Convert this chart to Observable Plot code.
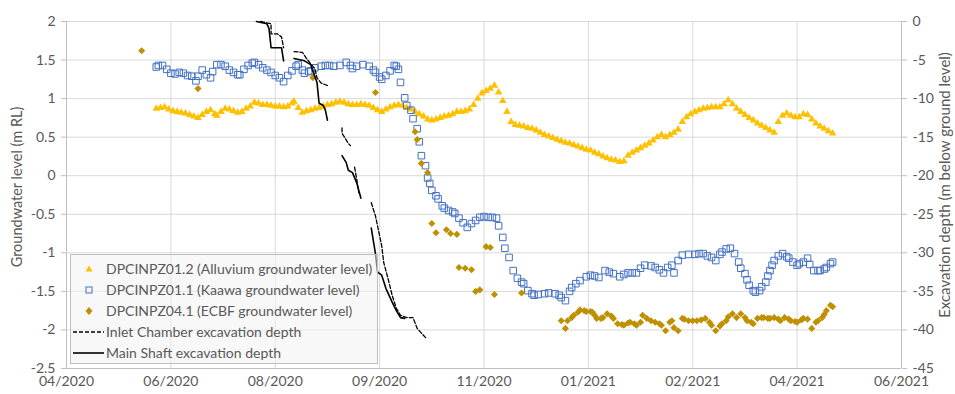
<!DOCTYPE html>
<html><head><meta charset="utf-8">
<script src="https://cdn.jsdelivr.net/npm/d3@7"></script>
<script src="https://cdn.jsdelivr.net/npm/@observablehq/plot@0.6"></script>
<style>
body{margin:0;background:#fff;}
#wrap{position:relative;width:955px;height:394px;font-family:Lato,"Open Sans",sans-serif;}
#legend{position:absolute;left:70px;top:254px;width:308px;height:110px;border:1px solid #bfbfbf;background:rgba(242,242,242,0.55);box-sizing:border-box;}
.row{position:absolute;left:0;height:20px;width:300px;}
.row svg{position:absolute;left:0;top:0;}
.row span{position:absolute;left:35px;top:0;line-height:20px;font-size:14px;color:#595959;white-space:nowrap;}
</style></head>
<body><div id="wrap"><div id="legend"></div></div>
<script>
// ---- axis ticks ----
const xTickDates = ["2020-04-29","2020-06-18","2020-08-07","2020-09-26","2020-11-15","2021-01-04","2021-02-23","2021-04-14","2021-06-03"];
const xTickLabels = ["04/2020","06/2020","08/2020","09/2020","11/2020","01/2021","02/2021","04/2021","06/2021"];
const yTicks = [2,1.5,1,0.5,0,-0.5,-1,-1.5,-2,-2.5];
const yTickLabels = ["2","1.5","1","0.5","0","-0.5","-1","-1.5","-2","-2.5"];
const depthTickLabels = ["0","-5","-10","-15","-20","-25","-30","-35","-40","-45"];

// ---- series (date, groundwater level m RL) ----
const alluvium = [
["2020-06-11",0.87],["2020-06-13",0.88],["2020-06-15",0.89],["2020-06-17",0.86],["2020-06-19",0.84],["2020-06-21",0.83],["2020-06-23",0.82],["2020-06-25",0.81],["2020-06-27",0.79],["2020-06-29",0.77],
["2020-07-01",0.75],["2020-07-03",0.79],["2020-07-05",0.83],["2020-07-07",0.85],["2020-07-09",0.80],["2020-07-10",0.78],["2020-07-12",0.83],["2020-07-14",0.87],["2020-07-16",0.86],["2020-07-18",0.84],
["2020-07-20",0.82],["2020-07-22",0.83],["2020-07-24",0.87],["2020-07-26",0.90],["2020-07-28",0.95],["2020-07-30",0.94],["2020-08-01",0.92],["2020-08-03",0.92],["2020-08-05",0.91],["2020-08-07",0.90],
["2020-08-09",0.90],["2020-08-11",0.89],["2020-08-13",0.90],["2020-08-15",0.94],["2020-08-16",0.96],["2020-08-18",0.88],["2020-08-20",0.82],["2020-08-22",0.84],["2020-08-24",0.85],["2020-08-26",0.87],
["2020-08-28",0.88],["2020-08-30",0.90],["2020-09-01",0.92],["2020-09-03",0.93],["2020-09-05",0.95],["2020-09-07",0.96],["2020-09-09",0.95],["2020-09-11",0.93],["2020-09-13",0.92],["2020-09-15",0.92],
["2020-09-17",0.93],["2020-09-19",0.92],["2020-09-21",0.91],["2020-09-23",0.88],["2020-09-25",0.85],["2020-09-27",0.83],["2020-09-29",0.86],["2020-10-01",0.89],["2020-10-03",0.91],["2020-10-05",0.92],
["2020-10-07",0.91],["2020-10-09",0.88],["2020-10-11",0.86],["2020-10-13",0.83],["2020-10-15",0.80],["2020-10-17",0.77],["2020-10-19",0.73],["2020-10-21",0.72],["2020-10-23",0.73],["2020-10-25",0.75],
["2020-10-27",0.77],["2020-10-29",0.78],["2020-10-31",0.80],["2020-11-02",0.83],["2020-11-04",0.83],["2020-11-06",0.84],["2020-11-08",0.86],["2020-11-10",0.92],["2020-11-12",1.00],["2020-11-14",1.07],
["2020-11-16",1.10],["2020-11-18",1.13],["2020-11-20",1.17],["2020-11-22",1.08],["2020-11-24",0.97],["2020-11-26",0.83],["2020-11-28",0.70],["2020-11-30",0.66],["2020-12-02",0.65],["2020-12-04",0.64],
["2020-12-06",0.62],["2020-12-08",0.61],["2020-12-10",0.59],["2020-12-12",0.56],["2020-12-14",0.53],["2020-12-16",0.51],["2020-12-18",0.49],["2020-12-20",0.47],["2020-12-22",0.45],["2020-12-24",0.43],
["2020-12-26",0.42],["2020-12-28",0.40],["2020-12-30",0.38],["2021-01-01",0.36],["2021-01-03",0.34],["2021-01-05",0.33],["2021-01-07",0.30],["2021-01-09",0.28],["2021-01-11",0.25],["2021-01-13",0.23],
["2021-01-15",0.21],["2021-01-17",0.20],["2021-01-19",0.18],["2021-01-21",0.19],["2021-01-23",0.26],["2021-01-25",0.30],["2021-01-27",0.33],["2021-01-29",0.36],["2021-01-31",0.39],["2021-02-02",0.42],
["2021-02-04",0.46],["2021-02-06",0.50],["2021-02-08",0.53],["2021-02-10",0.50],["2021-02-12",0.53],["2021-02-14",0.56],["2021-02-16",0.60],["2021-02-18",0.70],["2021-02-20",0.76],["2021-02-22",0.80],
["2021-02-24",0.83],["2021-02-26",0.85],["2021-02-28",0.87],["2021-03-02",0.88],["2021-03-04",0.89],["2021-03-06",0.89],["2021-03-08",0.89],["2021-03-10",0.93],["2021-03-12",0.98],["2021-03-14",0.93],
["2021-03-16",0.87],["2021-03-18",0.83],["2021-03-20",0.79],["2021-03-22",0.75],["2021-03-24",0.72],["2021-03-26",0.68],["2021-03-28",0.65],["2021-03-30",0.62],["2021-04-01",0.59],["2021-04-03",0.56],
["2021-04-05",0.70],["2021-04-07",0.78],["2021-04-09",0.81],["2021-04-11",0.78],["2021-04-13",0.76],["2021-04-15",0.76],["2021-04-17",0.80],["2021-04-19",0.79],["2021-04-21",0.73],["2021-04-23",0.68],
["2021-04-25",0.64],["2021-04-27",0.61],["2021-04-29",0.58],["2021-05-01",0.55]
];

const kaawa = [
["2020-06-11",1.41],["2020-06-12",1.43],["2020-06-14",1.43],["2020-06-16",1.38],["2020-06-18",1.33],["2020-06-20",1.32],["2020-06-22",1.34],["2020-06-24",1.33],["2020-06-26",1.30],["2020-06-28",1.29],
["2020-06-30",1.23],["2020-07-01",1.29],["2020-07-03",1.37],["2020-07-05",1.31],["2020-07-07",1.27],["2020-07-08",1.35],["2020-07-10",1.44],["2020-07-12",1.44],["2020-07-14",1.42],["2020-07-16",1.37],
["2020-07-18",1.34],["2020-07-20",1.31],["2020-07-21",1.31],["2020-07-23",1.38],["2020-07-25",1.43],["2020-07-27",1.46],["2020-07-28",1.47],["2020-07-30",1.44],["2020-08-01",1.40],["2020-08-03",1.37],
["2020-08-05",1.34],["2020-08-07",1.30],["2020-08-09",1.27],["2020-08-11",1.22],["2020-08-13",1.30],["2020-08-15",1.36],["2020-08-17",1.42],["2020-08-18",1.44],["2020-08-20",1.37],["2020-08-21",1.33],
["2020-08-23",1.35],["2020-08-24",1.36],["2020-08-26",1.40],["2020-08-29",1.42],["2020-08-31",1.43],["2020-09-02",1.43],["2020-09-04",1.42],["2020-09-07",1.43],["2020-09-10",1.47],["2020-09-12",1.43],
["2020-09-13",1.39],["2020-09-15",1.42],["2020-09-18",1.44],["2020-09-21",1.42],["2020-09-23",1.37],["2020-09-24",1.34],["2020-09-26",1.28],["2020-09-27",1.25],["2020-09-29",1.30],["2020-10-01",1.36],
["2020-10-03",1.43],["2020-10-04",1.42],["2020-10-05",1.38],["2020-10-06",1.21],["2020-10-08",1.01],["2020-10-09",0.91],["2020-10-11",0.85],["2020-10-12",0.74],["2020-10-14",0.61],["2020-10-15",0.44],
["2020-10-16",0.26],["2020-10-18",0.13],["2020-10-19",-0.03],["2020-10-20",-0.10],["2020-10-21",-0.19],["2020-10-23",-0.26],["2020-10-24",-0.30],["2020-10-26",-0.39],["2020-10-27",-0.42],["2020-10-29",-0.45],
["2020-10-31",-0.47],["2020-11-01",-0.49],["2020-11-03",-0.55],["2020-11-05",-0.61],["2020-11-07",-0.67],["2020-11-09",-0.62],["2020-11-11",-0.58],["2020-11-13",-0.54],["2020-11-15",-0.53],["2020-11-17",-0.54],
["2020-11-19",-0.54],["2020-11-21",-0.55],["2020-11-22",-0.65],["2020-11-24",-0.80],["2020-11-25",-0.94],["2020-11-27",-1.06],["2020-11-29",-1.23],["2020-12-01",-1.33],["2020-12-03",-1.38],["2020-12-04",-1.40],
["2020-12-06",-1.49],["2020-12-08",-1.53],["2020-12-09",-1.55],["2020-12-11",-1.54],["2020-12-14",-1.53],["2020-12-16",-1.52],["2020-12-19",-1.53],["2020-12-21",-1.55],["2020-12-22",-1.58],["2020-12-24",-1.62],
["2020-12-26",-1.50],["2020-12-27",-1.45],["2020-12-29",-1.40],["2020-12-31",-1.36],["2021-01-03",-1.31],["2021-01-05",-1.29],["2021-01-07",-1.30],["2021-01-09",-1.32],["2021-01-12",-1.23],["2021-01-14",-1.25],
["2021-01-16",-1.27],["2021-01-19",-1.31],["2021-01-21",-1.28],["2021-01-23",-1.26],["2021-01-25",-1.26],["2021-01-27",-1.26],["2021-01-29",-1.20],["2021-01-31",-1.16],["2021-02-03",-1.17],["2021-02-05",-1.19],
["2021-02-07",-1.22],["2021-02-09",-1.26],["2021-02-11",-1.19],["2021-02-13",-1.16],["2021-02-14",-1.26],["2021-02-16",-1.10],["2021-02-18",-1.03],["2021-02-21",-1.02],["2021-02-24",-1.02],["2021-02-26",-1.01],
["2021-02-28",-1.01],["2021-03-02",-1.04],["2021-03-04",-1.06],["2021-03-06",-1.10],["2021-03-08",-1.02],["2021-03-09",-0.99],["2021-03-11",-0.95],["2021-03-13",-0.94],["2021-03-15",-1.01],["2021-03-17",-1.12],
["2021-03-18",-1.20],["2021-03-20",-1.27],["2021-03-21",-1.35],["2021-03-22",-1.42],["2021-03-24",-1.49],["2021-03-25",-1.51],["2021-03-27",-1.49],["2021-03-28",-1.44],["2021-03-30",-1.38],["2021-03-31",-1.30],
["2021-04-01",-1.23],["2021-04-02",-1.16],["2021-04-03",-1.10],["2021-04-05",-1.04],["2021-04-07",-1.01],["2021-04-09",-1.05],["2021-04-10",-1.07],["2021-04-12",-1.12],["2021-04-14",-1.16],["2021-04-15",-1.14],
["2021-04-17",-1.12],["2021-04-19",-1.07],["2021-04-20",-1.15],["2021-04-22",-1.23],["2021-04-24",-1.23],["2021-04-25",-1.23],["2021-04-27",-1.21],["2021-04-28",-1.19],["2021-04-30",-1.14],["2021-05-01",-1.12]
];

const ecbf = [
["2020-06-04",1.62],["2020-07-01",1.13],["2020-08-25",1.27],["2020-09-24",1.08],["2020-10-13",0.57],["2020-10-14",0.47],["2020-10-16",0.16],["2020-10-19",0.04],["2020-10-21",-0.62],["2020-10-23",-0.74],
["2020-10-28",-0.70],["2020-10-30",-0.75],["2020-11-02",-0.76],["2020-11-03",-1.19],["2020-11-06",-1.20],["2020-11-09",-1.22],["2020-11-11",-1.50],["2020-11-13",-1.48],["2020-11-16",-0.92],["2020-11-18",-0.93],
["2020-11-20",-1.54],["2020-12-03",-1.52],
["2020-12-22",-1.88],["2020-12-24",-1.98],["2020-12-25",-1.88],["2020-12-27",-1.84],["2020-12-28",-1.81],["2020-12-30",-1.77],["2020-12-31",-1.74],["2021-01-02",-1.75],["2021-01-03",-1.76],["2021-01-05",-1.76],
["2021-01-06",-1.77],["2021-01-07",-1.81],["2021-01-08",-1.85],["2021-01-10",-1.85],["2021-01-11",-1.84],["2021-01-13",-1.79],["2021-01-15",-1.82],["2021-01-16",-1.85],["2021-01-18",-1.92],["2021-01-20",-1.93],
["2021-01-21",-1.94],["2021-01-23",-1.91],["2021-01-24",-1.90],["2021-01-26",-1.92],["2021-01-27",-1.94],["2021-01-29",-1.90],["2021-01-30",-1.81],["2021-02-01",-1.85],["2021-02-03",-1.88],["2021-02-05",-1.90],
["2021-02-07",-1.92],["2021-02-08",-1.94],["2021-02-10",-2.01],["2021-02-12",-1.90],["2021-02-13",-1.88],["2021-02-14",-1.97],["2021-02-16",-2.01],["2021-02-18",-1.85],["2021-02-19",-1.86],["2021-02-21",-1.88],
["2021-02-23",-1.88],["2021-02-25",-1.88],["2021-02-27",-1.87],["2021-03-01",-1.85],["2021-03-03",-1.90],["2021-03-04",-1.94],["2021-03-06",-2.01],["2021-03-08",-1.95],["2021-03-09",-1.92],["2021-03-11",-1.88],
["2021-03-12",-1.83],["2021-03-14",-1.79],["2021-03-16",-1.84],["2021-03-18",-1.79],["2021-03-20",-1.84],["2021-03-21",-1.88],["2021-03-23",-1.90],["2021-03-24",-1.92],["2021-03-26",-1.85],["2021-03-28",-1.84],
["2021-03-29",-1.84],["2021-03-31",-1.85],["2021-04-01",-1.85],["2021-04-03",-1.84],["2021-04-05",-1.86],["2021-04-06",-1.88],["2021-04-08",-1.84],["2021-04-10",-1.86],["2021-04-11",-1.88],["2021-04-13",-1.89],
["2021-04-14",-1.90],["2021-04-16",-1.87],["2021-04-17",-1.85],["2021-04-19",-1.86],["2021-04-21",-1.98],["2021-04-23",-1.90],["2021-04-24",-1.88],["2021-04-26",-1.84],["2021-04-27",-1.80],["2021-04-28",-1.75],
["2021-04-30",-1.68],["2021-05-01",-1.70]
];

// ---- excavation depth (date, m below ground level); null = gap ----
const inletChamber = [
["2020-07-31",0],["2020-08-05",-0.3],["2020-08-05",-1.6],["2020-08-08",-1.6],["2020-08-10",-2.0],["2020-08-11",-3.4],
null,
["2020-08-16",-3.9],["2020-08-20",-4.0],["2020-08-22",-4.8],["2020-08-24",-5.5],["2020-08-26",-6.1],["2020-08-27",-7.3],["2020-08-29",-8.0],["2020-09-01",-8.3],
null,
["2020-09-08",-13.8],["2020-09-08",-14.5],["2020-09-11",-15.8],["2020-09-12",-16.1],
null,
["2020-09-14",-18.9],["2020-09-15",-20.4],["2020-09-16",-22.2],
null,
["2020-09-22",-23.5],["2020-09-24",-25.2],["2020-09-27",-29.1],["2020-09-28",-31.3],["2020-09-30",-33.3],["2020-10-02",-35.5],["2020-10-04",-37.2],["2020-10-06",-38.1],["2020-10-09",-38.4],["2020-10-12",-38.4],["2020-10-14",-39.8],["2020-10-18",-41.0]
];
const mainShaft = [
["2020-07-29",0],["2020-08-03",-0.3],["2020-08-04",-0.9],["2020-08-05",-3.4],["2020-08-10",-3.4],["2020-08-11",-5.1],
null,
["2020-08-16",-4.8],["2020-08-21",-5.1],["2020-08-24",-5.6],["2020-08-27",-7.9],["2020-08-28",-10.6],["2020-08-30",-10.9],["2020-08-31",-11.5],["2020-09-01",-12.8],
null,
["2020-09-08",-17.4],["2020-09-10",-18.3],["2020-09-11",-19.3],["2020-09-13",-19.6],["2020-09-15",-20.9],["2020-09-17",-22.9],
null,
["2020-09-22",-26.8],["2020-09-24",-30.1],["2020-09-25",-32.5],["2020-09-27",-32.9],["2020-09-29",-34.6],["2020-10-02",-36.4],["2020-10-04",-37.5],["2020-10-06",-38.4],["2020-10-08",-38.5]
];

const legendLabels = [
"DPCINPZ01.2 (Alluvium groundwater level)",
"DPCINPZ01.1 (Kaawa groundwater level)",
"DPCINPZ04.1 (ECBF groundwater level)",
"Inlet Chamber excavation depth",
"Main Shaft excavation depth"
];
const leftTitle = "Groundwater level (m RL)";
const rightTitle = "Excavation depth (m below ground level)";
const colors = {alluvium:"#FFC000", kaawa:"#4472C4", ecbf:"#BF9000", line:"#000000"};

// ---- build ----
const toPts = arr => arr.map(p => p ? {date:new Date(p[0]), v:p[1]} : {date:null, v:null});
const depthToLevel = d => d == null ? null : 2 + d / 10; // right axis 0..-45 aligned with left 2..-2.5
const xTicks = xTickDates.map(d => new Date(d));

const A = toPts(alluvium), K = toPts(kaawa), E = toPts(ecbf);
const IC = toPts(inletChamber), MS = toPts(mainShaft);

const gridColor = "#d9d9d9", axisColor = "#bfbfbf";

const chart = Plot.plot({
  width: 955, height: 394,
  marginTop: 21, marginBottom: 26, marginLeft: 66, marginRight: 54,
  style: {fontFamily: "Lato, 'Open Sans', sans-serif", fontSize: "14px", color: "#595959", background: "transparent", overflow: "visible"},
  x: {type: "utc", domain: [xTicks[0], xTicks[xTicks.length - 1]]},
  y: {domain: [-2.5, 2]},
  marks: [
    Plot.gridX(xTicks, {stroke: gridColor, strokeOpacity: 1}),
    Plot.gridY(yTicks, {stroke: gridColor, strokeOpacity: 1}),
    Plot.axisY(yTicks, {anchor: "left", tickFormat: (d, i) => yTickLabels[i], tickSize: 5, tickPadding: 6, stroke: axisColor, label: null}),
    Plot.axisY(yTicks, {anchor: "right", tickFormat: (d, i) => depthTickLabels[i], tickSize: 5, tickPadding: 6, stroke: axisColor, label: null}),
    Plot.axisX(xTicks, {tickFormat: (d, i) => xTickLabels[i], tickSize: 0, tickPadding: 8, label: null}),
    Plot.ruleX([xTicks[0], xTicks[xTicks.length - 1]], {stroke: axisColor}),
    Plot.ruleY([-2.5], {stroke: axisColor}),
    Plot.text([leftTitle], {frameAnchor: "left", textAnchor: "middle", rotate: -90, dx: -49, dy: -8, fontSize: 14.5, fill: "#595959"}),
    Plot.text([rightTitle], {frameAnchor: "right", textAnchor: "middle", rotate: -90, dx: 44, dy: -10, fontSize: 15, fill: "#595959"}),
    Plot.dot(A, {x: "date", y: "v", symbol: "triangle", r: 2.8, fill: colors.alluvium, stroke: null}),
    Plot.dot(K, {x: "date", y: "v", symbol: "square", r: 3.7, fill: "none", stroke: colors.kaawa, strokeWidth: 1}),
    Plot.dot(E, {x: "date", y: "v", symbol: "diamond2", r: 3.2, fill: colors.ecbf, stroke: null}),
    Plot.line(IC, {x: "date", y: d => depthToLevel(d.v), stroke: colors.line, strokeWidth: 1.3, strokeDasharray: "4,2"}),
    Plot.line(MS, {x: "date", y: d => depthToLevel(d.v), stroke: colors.line, strokeWidth: 1.6})
  ]
});
const wrap = document.getElementById("wrap");
wrap.insertBefore(chart, wrap.firstChild);

// ---- legend (inside plot area) ----
const legend = document.getElementById("legend");
const legendSymbols = [
  `<polygon points="18,6.5 21.5,12.5 14.5,12.5" fill="${colors.alluvium}"/>`,
  `<rect x="15" y="7" width="6" height="6" fill="none" stroke="${colors.kaawa}" stroke-width="1"/>`,
  `<polygon points="18,6 21.5,10 18,14 14.5,10" fill="${colors.ecbf}"/>`,
  `<line x1="2" y1="10" x2="33" y2="10" stroke="#000" stroke-width="1.3" stroke-dasharray="4,2"/>`,
  `<line x1="2" y1="10" x2="33" y2="10" stroke="#000" stroke-width="1.6"/>`
];
const rowTops = [4, 25, 46, 67, 88];
legendLabels.forEach((lab, i) => {
  const row = document.createElement("div");
  row.className = "row";
  row.style.top = rowTops[i] + "px";
  row.innerHTML = `<svg width="36" height="20">${legendSymbols[i]}</svg><span>${lab}</span>`;
  legend.appendChild(row);
});
</script>
</body></html>
